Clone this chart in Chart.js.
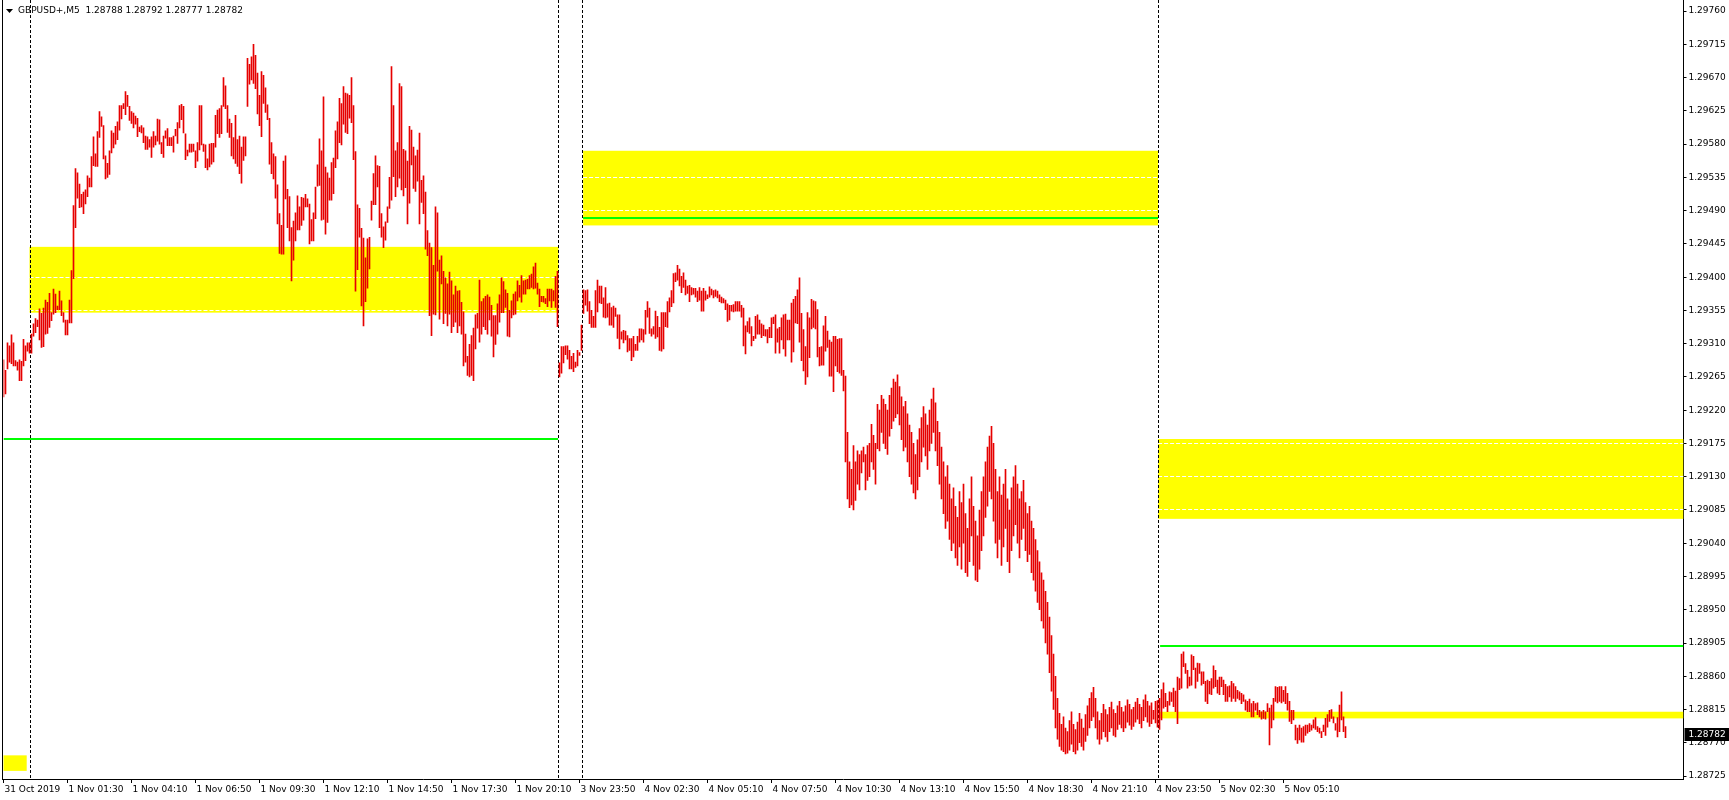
<!DOCTYPE html>
<html>
<head>
<meta charset="utf-8">
<title>GBPUSD+,M5</title>
<script src="https://cdn.jsdelivr.net/npm/chart.js@4.4.1/dist/chart.umd.min.js"></script>
<style>
  html, body { margin: 0; padding: 0; background: #fff; }
  canvas { display: block; }
</style>
</head>
<body>
<canvas id="chart" width="1729" height="800"></canvas>
<script>
// GBPUSD+ M5 bars, 31 Oct 22:50 .. 5 Nov 07:45
// highs and lows in points above 1.28000 (1 point = 0.00001)
const barHigh = [
  1288,1274,1311,1307,1322,1311,1287,1285,1288,1286, // 0
  1316,1307,1311,1311,1323,1337,1344,1342,1357,1351,
  1358,1369,1366,1378,1352,1384,1377,1361,1381,1368,
  1352,1342,1342,1369,1409,1497,1547,1541,1526,1512,
  1515,1518,1537,1534,1563,1590,1567,1597,1624,1617,
  1605,1564,1554,1571,1598,1595,1604,1610,1632,1632, // 50
  1635,1651,1646,1631,1624,1622,1618,1615,1603,1605,
  1602,1591,1590,1586,1590,1597,1591,1614,1613,1582,
  1591,1598,1601,1589,1589,1591,1600,1609,1632,1634,
  1631,1594,1572,1580,1580,1580,1571,1582,1632,1632,
  1580,1579,1560,1580,1581,1581,1619,1626,1628,1632, // 100
  1670,1659,1632,1614,1608,1589,1619,1586,1591,1576,
  1590,1590,1696,1688,1698,1715,1700,1676,1646,1678,
  1673,1656,1633,1615,1582,1567,1563,1525,1486,1470,
  1557,1564,1519,1509,1467,1476,1487,1510,1495,1508,
  1507,1512,1506,1499,1478,1487,1522,1552,1587,1571, // 150
  1644,1549,1541,1534,1555,1561,1598,1610,1642,1635,
  1658,1649,1648,1646,1670,1632,1570,1498,1493,1466,
  1453,1426,1452,1454,1503,1540,1564,1551,1550,1486,
  1468,1475,1495,1535,1685,1632,1571,1582,1662,1658,
  1573,1571,1557,1604,1599,1576,1564,1572,1595,1531, // 200
  1537,1515,1463,1446,1440,1416,1495,1487,1423,1429,
  1408,1399,1391,1407,1395,1376,1388,1381,1382,1366,
  1353,1323,1293,1309,1321,1331,1349,1351,1396,1367,
  1371,1374,1376,1373,1362,1348,1348,1364,1376,1399,
  1394,1383,1378,1355,1368,1377,1380,1395,1389,1402, // 250
  1395,1396,1397,1402,1404,1414,1419,1392,1384,1374,
  1374,1371,1384,1384,1384,1382,1401,1408,1284,1306,
  1306,1307,1307,1301,1293,1297,1285,1301,1298,1335,
  1383,1382,1383,1367,1355,1347,1382,1396,1388,1388,
  1372,1386,1364,1365,1359,1361,1358,1349,1349,1326, // 300
  1328,1327,1321,1317,1317,1320,1309,1320,1330,1330,
  1329,1355,1367,1358,1330,1333,1354,1347,1332,1352,
  1352,1352,1367,1372,1382,1405,1406,1416,1411,1401,
  1406,1396,1388,1389,1386,1385,1385,1381,1386,1381,
  1385,1381,1376,1387,1384,1382,1383,1381,1376,1373, // 350
  1371,1369,1364,1362,1362,1363,1367,1367,1367,1362,
  1358,1334,1340,1345,1333,1320,1347,1349,1342,1337,
  1335,1329,1329,1332,1345,1346,1349,1330,1332,1345,
  1349,1350,1342,1342,1365,1370,1374,1383,1399,1351,
  1329,1306,1352,1345,1370,1368,1367,1356,1305,1306, // 400
  1334,1347,1327,1315,1312,1320,1320,1316,1317,1317,
  1274,1266,1190,1150,1140,1172,1150,1165,1160,1165,
  1170,1160,1172,1175,1201,1186,1175,1228,1220,1240,
  1235,1228,1220,1240,1250,1262,1258,1268,1252,1238,
  1225,1232,1215,1200,1190,1175,1160,1180,1195,1210, // 450
  1225,1215,1200,1220,1235,1250,1230,1205,1190,1170,
  1150,1130,1145,1120,1100,1115,1090,1075,1110,1095,
  1120,1080,1060,1100,1130,1090,1070,1050,1085,1110,
  1130,1150,1170,1185,1198,1175,1140,1110,1130,1105,
  1120,1140,1100,1085,1115,1130,1145,1120,1100,1110, // 500
  1125,1095,1080,1090,1070,1060,1045,1030,1015,1000,
  990,975,960,940,915,890,860,830,810,795,
  805,790,785,800,812,795,788,798,810,802,
  790,808,820,830,838,845,830,812,800,810,
  822,815,808,818,825,815,810,820,826,818, // 550
  812,820,828,822,815,818,825,830,822,818,
  828,835,826,820,824,814,826,827,830,842,
  851,837,826,839,838,844,840,859,857,890,
  893,877,868,859,889,887,871,878,877,866,
  866,853,855,853,857,874,868,855,859,859, // 600
  855,849,846,847,853,850,846,841,839,837,
  835,828,826,829,823,826,823,824,814,812,
  814,812,823,817,821,830,846,845,846,846,
  841,846,837,826,814,814,794,790,794,790,
  792,794,794,796,794,801,804,792,790,785, // 650
  794,803,808,814,815,805,796,804,821,839,
  805,792
];
const barLow = [
  1238,1242,1276,1285,1283,1280,1280,1274,1260,1260, // 0
  1280,1287,1300,1297,1297,1320,1325,1333,1315,1305,
  1306,1323,1324,1332,1341,1350,1352,1356,1356,1348,
  1339,1322,1322,1338,1338,1398,1467,1507,1494,1495,
  1486,1499,1509,1522,1522,1551,1550,1550,1589,1604,
  1560,1533,1535,1539,1568,1575,1580,1586,1599,1614, // 50
  1628,1620,1631,1612,1608,1602,1607,1590,1597,1595,
  1582,1573,1573,1576,1562,1576,1579,1584,1580,1567,
  1562,1588,1578,1578,1578,1569,1591,1581,1602,1613,
  1595,1559,1564,1569,1569,1570,1548,1557,1572,1579,
  1570,1548,1545,1549,1553,1556,1576,1594,1589,1594, // 100
  1631,1628,1596,1589,1564,1560,1554,1550,1540,1527,
  1558,1564,1631,1661,1667,1662,1655,1621,1605,1590,
  1635,1623,1613,1553,1540,1533,1507,1472,1432,1431,
  1431,1506,1467,1449,1395,1423,1449,1464,1464,1470,
  1477,1495,1495,1445,1449,1449,1479,1523,1524,1477, // 150
  1478,1458,1474,1504,1504,1513,1548,1560,1582,1579,
  1607,1596,1594,1615,1609,1559,1381,1410,1454,1361,
  1334,1367,1385,1411,1477,1498,1498,1522,1467,1454,
  1440,1450,1474,1493,1504,1536,1509,1522,1534,1518,
  1510,1521,1472,1500,1552,1520,1516,1530,1472,1501, // 200
  1486,1438,1429,1348,1321,1350,1349,1408,1343,1391,
  1337,1351,1334,1350,1325,1333,1339,1325,1334,1323,
  1280,1285,1267,1265,1267,1260,1303,1331,1312,1323,
  1333,1329,1323,1342,1320,1292,1309,1323,1339,1352,
  1352,1359,1320,1319,1345,1349,1350,1368,1373,1366, // 250
  1377,1377,1384,1384,1386,1384,1385,1377,1360,1367,
  1366,1364,1360,1368,1359,1368,1359,1333,1265,1270,
  1284,1295,1289,1276,1276,1272,1278,1280,1294,1301,
  1351,1362,1354,1337,1332,1332,1332,1353,1365,1364,
  1346,1345,1346,1335,1335,1332,1347,1317,1303,1316, // 300
  1311,1315,1299,1301,1287,1292,1301,1301,1312,1315,
  1312,1323,1346,1324,1320,1323,1317,1319,1301,1300,
  1303,1333,1332,1353,1360,1365,1394,1396,1388,1379,
  1386,1376,1378,1367,1376,1377,1373,1367,1369,1354,
  1354,1369,1371,1373,1376,1372,1374,1372,1367,1365, // 350
  1365,1356,1340,1342,1354,1353,1354,1354,1354,1346,
  1307,1296,1326,1324,1307,1314,1317,1323,1323,1318,
  1321,1320,1311,1318,1318,1337,1297,1312,1297,1315,
  1303,1293,1315,1315,1285,1299,1338,1337,1312,1287,
  1273,1255,1265,1291,1330,1332,1330,1292,1280,1281, // 400
  1281,1300,1305,1266,1266,1245,1280,1272,1270,1267,
  1246,1150,1100,1088,1092,1085,1098,1120,1112,1135,
  1150,1112,1125,1130,1150,1140,1120,1168,1165,1190,
  1175,1168,1160,1185,1195,1205,1210,1215,1200,1180,
  1165,1170,1150,1130,1120,1108,1100,1112,1130,1150, // 450
  1170,1158,1140,1165,1175,1190,1165,1145,1120,1100,
  1080,1060,1070,1045,1030,1040,1020,1010,1035,1005,
  1040,1000,995,1015,1050,1010,990,988,1005,1030,
  1050,1075,1090,1110,1100,1070,1040,1020,1045,1010,
  1035,1060,1015,1000,1030,1050,1065,1040,1020,1045, // 500
  1060,1030,1015,1025,1000,990,975,960,950,935,
  925,905,890,865,840,815,790,775,765,760,
  758,755,756,760,768,758,755,760,770,765,
  760,772,780,790,800,805,790,775,768,775,
  785,778,772,785,790,780,778,788,795,790, // 550
  785,790,798,794,788,792,798,802,796,790,
  800,805,798,792,796,802,797,791,788,801,
  817,819,812,821,826,819,812,796,842,844,
  873,864,844,847,848,869,844,853,864,848,
  850,826,823,836,835,844,846,837,835,846, // 600
  835,826,826,832,826,830,826,830,828,823,
  826,814,812,812,805,805,814,808,805,802,
  803,802,812,767,790,801,826,824,826,824,
  826,823,814,799,796,801,774,769,774,771,
  771,780,783,785,787,790,788,785,783,777, // 650
  785,780,791,799,803,797,787,778,785,801,
  785,777
];
const lastBar = [1.28788, 1.28792, 1.28777, 1.28782]; // open high low close

// one time label every 32 bars, starting at bar 0
const timeLabels = [
  '31 Oct 2019', '1 Nov 01:30', '1 Nov 04:10', '1 Nov 06:50', '1 Nov 09:30',
  '1 Nov 12:10', '1 Nov 14:50', '1 Nov 17:30', '1 Nov 20:10', '3 Nov 23:50',
  '4 Nov 02:30', '4 Nov 05:10', '4 Nov 07:50', '4 Nov 10:30', '4 Nov 13:10',
  '4 Nov 15:50', '4 Nov 18:30', '4 Nov 21:10', '4 Nov 23:50', '5 Nov 02:30',
  '5 Nov 05:10'
];
const priceTicks = [
  1.28725, 1.28770, 1.28815, 1.28860, 1.28905, 1.28950, 1.28995, 1.29040,
  1.29085, 1.29130, 1.29175, 1.29220, 1.29265, 1.29310, 1.29355, 1.29400,
  1.29445, 1.29490, 1.29535, 1.29580, 1.29625, 1.29670, 1.29715, 1.29760
];

// supply / demand zones (bar positions and prices)
const zoneStart  = [13, 289.8, 577.3, 578.3, -0.5];
const zoneEnd    = [277.5, 577.3, 840, 840, 11.6];
const zoneTop    = [1.29441, 1.29571, 1.29181, 1.28812, 1.28753];
const zoneBottom = [1.29352, 1.29470, 1.29073, 1.28803, 1.28732];
const zoneMarks  = [[1.29400, 1.29356], [1.29535, 1.29491], [1.29176, 1.29131, 1.29086], [], []];

// green levels
const levelFrom  = [0, 289.8, 578.3];
const levelTo    = [277.3, 577.3, 840];
const levelPrice = [1.29181, 1.29480, 1.28901];

// day separators (first bar of each day)
const dayBreaks = [14, 278, 290, 578];

const slotCount = 841;
const labelEvery = 32;
const toPrice = v => +(1.28 + v / 100000).toFixed(5);

const labels = Array.from({length: slotCount}, (_, i) => i);
const bars = barHigh.map((h, i) => [toPrice(barLow[i]), toPrice(h)]);

const overlays = {
  id: 'overlays',
  beforeDatasetsDraw(chart) {
    const {ctx, chartArea: a, scales: {x, y}} = chart;
    ctx.save();
    ctx.beginPath();
    ctx.rect(a.left, a.top, a.right - a.left, a.bottom - a.top);
    ctx.clip();

    zoneStart.forEach((s, k) => {
      const x0 = x.getPixelForValue(s), x1 = x.getPixelForValue(zoneEnd[k]);
      const y0 = y.getPixelForValue(zoneTop[k]), y1 = y.getPixelForValue(zoneBottom[k]);
      ctx.fillStyle = '#ffff00';
      ctx.fillRect(x0, y0, x1 - x0, y1 - y0);
      ctx.strokeStyle = '#ffffff';
      ctx.lineWidth = 1;
      ctx.setLineDash([4, 2]);
      zoneMarks[k].forEach(p => {
        const yy = Math.round(y.getPixelForValue(p)) + 0.5;
        ctx.beginPath();
        ctx.moveTo(x0, yy);
        ctx.lineTo(x1, yy);
        ctx.stroke();
      });
    });

    ctx.setLineDash([]);
    ctx.fillStyle = '#00ff00';
    levelPrice.forEach((p, k) => {
      const x0 = x.getPixelForValue(levelFrom[k]), x1 = x.getPixelForValue(levelTo[k]);
      const yy = Math.round(y.getPixelForValue(p));
      ctx.fillRect(x0, yy - 1, x1 - x0, 2);
    });

    ctx.strokeStyle = '#000000';
    ctx.setLineDash([3, 2]);
    dayBreaks.forEach(b => {
      const xx = Math.floor(x.getPixelForValue(b) - 1) + 0.5;
      ctx.beginPath();
      ctx.moveTo(xx, a.top);
      ctx.lineTo(xx, a.bottom);
      ctx.stroke();
    });
    ctx.restore();
  },
  afterDraw(chart) {
    const {ctx, chartArea: a, scales: {y}} = chart;
    ctx.save();
    // left frame
    ctx.fillStyle = '#000';
    ctx.fillRect(2, 0, 1, a.bottom + 1);

    // symbol line
    ctx.beginPath();
    ctx.moveTo(6, 9); ctx.lineTo(13, 9); ctx.lineTo(9.5, 13); ctx.closePath();
    ctx.fill();
    ctx.font = '9px "DejaVu Sans"';
    ctx.textBaseline = 'middle';
    ctx.fillText('GBPUSD+,M5  ' + lastBar.map(v => v.toFixed(5)).join(' '), 18, 11);

    // current price tag
    const yc = Math.round(y.getPixelForValue(lastBar[3]));
    ctx.fillRect(a.right + 1, yc - 6, 45, 13);
    ctx.fillStyle = '#fff';
    ctx.textAlign = 'left';
    ctx.fillText(lastBar[3].toFixed(5), a.right + 5, yc + 0.5);
    ctx.restore();
  }
};

Chart.defaults.font.family = '"DejaVu Sans"';
Chart.defaults.font.size = 9;
Chart.defaults.color = '#000';

new Chart(document.getElementById('chart'), {
  type: 'bar',
  data: {
    labels: labels,
    datasets: [{
      data: bars,
      backgroundColor: '#e60000',
      borderWidth: 0,
      barThickness: 1,
      grouped: false
    }]
  },
  options: {
    responsive: false,
    devicePixelRatio: 1,
    animation: false,
    events: [],
    layout: { padding: { left: 3.5, top: 0, right: 0, bottom: 0 } },
    plugins: { legend: { display: false }, tooltip: { enabled: false } },
    scales: {
      x: {
        type: 'category',
        offset: false,
        grid: {
          offset: false,
          drawOnChartArea: false,
          tickLength: 4,
          color: c => (c.index % labelEvery === 0 && c.index / labelEvery < timeLabels.length) ? '#000' : 'rgba(0,0,0,0)'
        },
        border: { display: true, color: '#000' },
        ticks: {
          autoSkip: false,
          maxRotation: 0,
          minRotation: 0,
          align: 'start',
          labelOffset: 1,
          padding: 1,
          callback: (v, i) => (i % labelEvery === 0 && timeLabels[i / labelEvery]) ? timeLabels[i / labelEvery] : ''
        },
        afterFit: s => { s.height = 21; s.paddingLeft = 0; s.paddingRight = 0; }
      },
      y: {
        position: 'right',
        min: 1.28721,
        max: 1.29775,
        grid: { drawOnChartArea: false, tickLength: 3, color: '#000' },
        border: { display: true, color: '#000' },
        afterBuildTicks: s => { s.ticks = priceTicks.map(v => ({ value: v })); },
        ticks: {
          padding: 2,
          crossAlign: 'near',
          callback: v => Number(v).toFixed(5)
        },
        afterFit: s => { s.width = 45.5; s.paddingTop = 0; s.paddingBottom = 0; }
      }
    }
  },
  plugins: [overlays]
});
</script>
</body>
</html>
